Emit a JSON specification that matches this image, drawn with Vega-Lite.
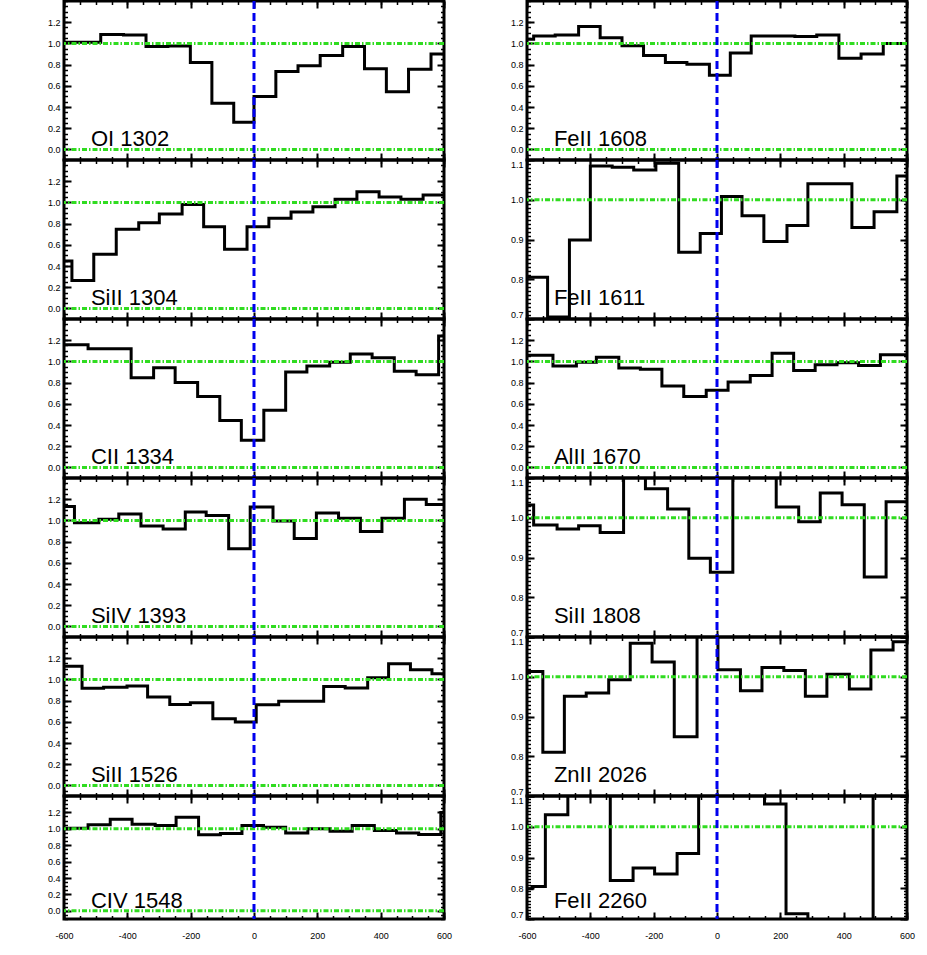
{
"$schema": "https://vega.github.io/schema/vega-lite/v6.json",
"padding": {"left": 0, "top": -2, "right": 0, "bottom": 0},
"background": "white",
"datasets": {
"spectra": [
{"ion":"OI 1302","v":-600,"f":1.01},{"ion":"OI 1302","v":-484,"f":1.085},{"ion":"OI 1302","v":-412,"f":1.08},{"ion":"OI 1302","v":-341,"f":0.97},{"ion":"OI 1302","v":-272,"f":0.975},{"ion":"OI 1302","v":-201,"f":0.82},{"ion":"OI 1302","v":-133,"f":0.435},{"ion":"OI 1302","v":-64,"f":0.255},{"ion":"OI 1302","v":0,"f":0.5},{"ion":"OI 1302","v":69,"f":0.735},{"ion":"OI 1302","v":139,"f":0.79},{"ion":"OI 1302","v":209,"f":0.885},{"ion":"OI 1302","v":280,"f":0.97},{"ion":"OI 1302","v":349,"f":0.76},{"ion":"OI 1302","v":418,"f":0.545},{"ion":"OI 1302","v":488,"f":0.757},{"ion":"OI 1302","v":559,"f":0.9},{"ion":"OI 1302","v":600,"f":0.9},
{"ion":"SiII 1304","v":-600,"f":0.446},{"ion":"SiII 1304","v":-575,"f":0.263},{"ion":"SiII 1304","v":-506,"f":0.51},{"ion":"SiII 1304","v":-435,"f":0.747},{"ion":"SiII 1304","v":-364,"f":0.807},{"ion":"SiII 1304","v":-299,"f":0.89},{"ion":"SiII 1304","v":-227,"f":0.98},{"ion":"SiII 1304","v":-159,"f":0.77},{"ion":"SiII 1304","v":-93,"f":0.557},{"ion":"SiII 1304","v":-22,"f":0.77},{"ion":"SiII 1304","v":47,"f":0.85},{"ion":"SiII 1304","v":117,"f":0.91},{"ion":"SiII 1304","v":186,"f":0.96},{"ion":"SiII 1304","v":256,"f":1.03},{"ion":"SiII 1304","v":325,"f":1.1},{"ion":"SiII 1304","v":395,"f":1.05},{"ion":"SiII 1304","v":464,"f":1.03},{"ion":"SiII 1304","v":534,"f":1.07},{"ion":"SiII 1304","v":600,"f":1.07},
{"ion":"CII 1334","v":-600,"f":1.157},{"ion":"CII 1334","v":-524,"f":1.12},{"ion":"CII 1334","v":-388,"f":0.845},{"ion":"CII 1334","v":-317,"f":0.94},{"ion":"CII 1334","v":-249,"f":0.8},{"ion":"CII 1334","v":-178,"f":0.67},{"ion":"CII 1334","v":-108,"f":0.443},{"ion":"CII 1334","v":-40,"f":0.255},{"ion":"CII 1334","v":31,"f":0.538},{"ion":"CII 1334","v":100,"f":0.9},{"ion":"CII 1334","v":167,"f":0.956},{"ion":"CII 1334","v":239,"f":0.993},{"ion":"CII 1334","v":304,"f":1.07},{"ion":"CII 1334","v":373,"f":1.034},{"ion":"CII 1334","v":443,"f":0.906},{"ion":"CII 1334","v":512,"f":0.874},{"ion":"CII 1334","v":583,"f":1.24},{"ion":"CII 1334","v":600,"f":1.24},
{"ion":"SiIV 1393","v":-600,"f":1.132},{"ion":"SiIV 1393","v":-567,"f":0.977},{"ion":"SiIV 1393","v":-490,"f":1.01},{"ion":"SiIV 1393","v":-427,"f":1.06},{"ion":"SiIV 1393","v":-357,"f":0.946},{"ion":"SiIV 1393","v":-287,"f":0.92},{"ion":"SiIV 1393","v":-217,"f":1.08},{"ion":"SiIV 1393","v":-151,"f":1.047},{"ion":"SiIV 1393","v":-80,"f":0.732},{"ion":"SiIV 1393","v":-12,"f":1.127},{"ion":"SiIV 1393","v":60,"f":0.995},{"ion":"SiIV 1393","v":127,"f":0.83},{"ion":"SiIV 1393","v":197,"f":1.07},{"ion":"SiIV 1393","v":267,"f":1.02},{"ion":"SiIV 1393","v":336,"f":0.896},{"ion":"SiIV 1393","v":404,"f":1.02},{"ion":"SiIV 1393","v":475,"f":1.2},{"ion":"SiIV 1393","v":544,"f":1.15},{"ion":"SiIV 1393","v":600,"f":1.15},
{"ion":"SiII 1526","v":-600,"f":1.125},{"ion":"SiII 1526","v":-543,"f":0.917},{"ion":"SiII 1526","v":-475,"f":0.925},{"ion":"SiII 1526","v":-401,"f":0.937},{"ion":"SiII 1526","v":-336,"f":0.833},{"ion":"SiII 1526","v":-266,"f":0.764},{"ion":"SiII 1526","v":-201,"f":0.78},{"ion":"SiII 1526","v":-130,"f":0.629},{"ion":"SiII 1526","v":-59,"f":0.597},{"ion":"SiII 1526","v":7,"f":0.76},{"ion":"SiII 1526","v":78,"f":0.795},{"ion":"SiII 1526","v":220,"f":0.934},{"ion":"SiII 1526","v":288,"f":0.92},{"ion":"SiII 1526","v":359,"f":1.015},{"ion":"SiII 1526","v":425,"f":1.147},{"ion":"SiII 1526","v":494,"f":1.09},{"ion":"SiII 1526","v":562,"f":1.053},{"ion":"SiII 1526","v":600,"f":1.053},
{"ion":"CIV 1548","v":-600,"f":1.007},{"ion":"CIV 1548","v":-524,"f":1.048},{"ion":"CIV 1548","v":-454,"f":1.116},{"ion":"CIV 1548","v":-385,"f":1.055},{"ion":"CIV 1548","v":-312,"f":1.04},{"ion":"CIV 1548","v":-246,"f":1.14},{"ion":"CIV 1548","v":-175,"f":0.928},{"ion":"CIV 1548","v":-106,"f":0.943},{"ion":"CIV 1548","v":-38,"f":1.04},{"ion":"CIV 1548","v":30,"f":1.02},{"ion":"CIV 1548","v":100,"f":0.95},{"ion":"CIV 1548","v":170,"f":1.0},{"ion":"CIV 1548","v":240,"f":0.97},{"ion":"CIV 1548","v":310,"f":1.04},{"ion":"CIV 1548","v":380,"f":0.98},{"ion":"CIV 1548","v":450,"f":0.95},{"ion":"CIV 1548","v":520,"f":0.93},{"ion":"CIV 1548","v":590,"f":1.2},{"ion":"CIV 1548","v":600,"f":1.2},
{"ion":"FeII 1608","v":-600,"f":1.04},{"ion":"FeII 1608","v":-579,"f":1.07},{"ion":"FeII 1608","v":-511,"f":1.08},{"ion":"FeII 1608","v":-437,"f":1.16},{"ion":"FeII 1608","v":-369,"f":1.053},{"ion":"FeII 1608","v":-300,"f":0.977},{"ion":"FeII 1608","v":-232,"f":0.886},{"ion":"FeII 1608","v":-163,"f":0.82},{"ion":"FeII 1608","v":-95,"f":0.804},{"ion":"FeII 1608","v":-24,"f":0.7},{"ion":"FeII 1608","v":42,"f":0.91},{"ion":"FeII 1608","v":108,"f":1.07},{"ion":"FeII 1608","v":246,"f":1.065},{"ion":"FeII 1608","v":315,"f":1.08},{"ion":"FeII 1608","v":385,"f":0.86},{"ion":"FeII 1608","v":455,"f":0.9},{"ion":"FeII 1608","v":525,"f":1.0},{"ion":"FeII 1608","v":600,"f":1.0},
{"ion":"FeII 1611","v":-600,"f":0.805},{"ion":"FeII 1611","v":-535,"f":0.705},{"ion":"FeII 1611","v":-466,"f":0.899},{"ion":"FeII 1611","v":-400,"f":1.085},{"ion":"FeII 1611","v":-331,"f":1.082},{"ion":"FeII 1611","v":-263,"f":1.075},{"ion":"FeII 1611","v":-193,"f":1.092},{"ion":"FeII 1611","v":-121,"f":0.868},{"ion":"FeII 1611","v":-53,"f":0.915},{"ion":"FeII 1611","v":14,"f":1.008},{"ion":"FeII 1611","v":79,"f":0.96},{"ion":"FeII 1611","v":148,"f":0.895},{"ion":"FeII 1611","v":221,"f":0.935},{"ion":"FeII 1611","v":287,"f":1.04},{"ion":"FeII 1611","v":426,"f":0.93},{"ion":"FeII 1611","v":496,"f":0.97},{"ion":"FeII 1611","v":568,"f":1.06},{"ion":"FeII 1611","v":600,"f":1.06},
{"ion":"AlII 1670","v":-600,"f":1.057},{"ion":"AlII 1670","v":-518,"f":0.956},{"ion":"AlII 1670","v":-444,"f":0.993},{"ion":"AlII 1670","v":-381,"f":1.04},{"ion":"AlII 1670","v":-310,"f":0.937},{"ion":"AlII 1670","v":-242,"f":0.925},{"ion":"AlII 1670","v":-174,"f":0.767},{"ion":"AlII 1670","v":-105,"f":0.67},{"ion":"AlII 1670","v":-34,"f":0.729},{"ion":"AlII 1670","v":35,"f":0.805},{"ion":"AlII 1670","v":105,"f":0.868},{"ion":"AlII 1670","v":174,"f":1.078},{"ion":"AlII 1670","v":242,"f":0.915},{"ion":"AlII 1670","v":310,"f":0.968},{"ion":"AlII 1670","v":379,"f":0.987},{"ion":"AlII 1670","v":447,"f":0.962},{"ion":"AlII 1670","v":516,"f":1.062},{"ion":"AlII 1670","v":600,"f":1.062},
{"ion":"SiII 1808","v":-600,"f":1.032},{"ion":"SiII 1808","v":-579,"f":0.982},{"ion":"SiII 1808","v":-505,"f":0.972},{"ion":"SiII 1808","v":-437,"f":0.98},{"ion":"SiII 1808","v":-369,"f":0.963},{"ion":"SiII 1808","v":-295,"f":1.2},{"ion":"SiII 1808","v":-226,"f":1.073},{"ion":"SiII 1808","v":-156,"f":1.022},{"ion":"SiII 1808","v":-89,"f":0.898},{"ion":"SiII 1808","v":-21,"f":0.863},{"ion":"SiII 1808","v":50,"f":1.2},{"ion":"SiII 1808","v":187,"f":1.027},{"ion":"SiII 1808","v":258,"f":0.99},{"ion":"SiII 1808","v":326,"f":1.0625},{"ion":"SiII 1808","v":395,"f":1.033},{"ion":"SiII 1808","v":465,"f":0.851},{"ion":"SiII 1808","v":534,"f":1.04},{"ion":"SiII 1808","v":600,"f":1.04},
{"ion":"ZnII 2026","v":-600,"f":1.013},{"ion":"ZnII 2026","v":-550,"f":0.81},{"ion":"ZnII 2026","v":-482,"f":0.951},{"ion":"ZnII 2026","v":-413,"f":0.959},{"ion":"ZnII 2026","v":-342,"f":0.9925},{"ion":"ZnII 2026","v":-274,"f":1.084},{"ion":"ZnII 2026","v":-205,"f":1.037},{"ion":"ZnII 2026","v":-135,"f":0.849},{"ion":"ZnII 2026","v":-63,"f":1.2},{"ion":"ZnII 2026","v":3,"f":1.0175},{"ion":"ZnII 2026","v":74,"f":0.965},{"ion":"ZnII 2026","v":142,"f":1.023},{"ion":"ZnII 2026","v":211,"f":1.016},{"ion":"ZnII 2026","v":279,"f":0.951},{"ion":"ZnII 2026","v":347,"f":1.0065},{"ion":"ZnII 2026","v":418,"f":0.969},{"ion":"ZnII 2026","v":486,"f":1.0675},{"ion":"ZnII 2026","v":556,"f":1.088},{"ion":"ZnII 2026","v":600,"f":1.088},
{"ion":"FeII 2260","v":-600,"f":0.798},{"ion":"FeII 2260","v":-584,"f":0.806},{"ion":"FeII 2260","v":-542,"f":1.039},{"ion":"FeII 2260","v":-471,"f":1.2},{"ion":"FeII 2260","v":-337,"f":0.825},{"ion":"FeII 2260","v":-265,"f":0.866},{"ion":"FeII 2260","v":-197,"f":0.846},{"ion":"FeII 2260","v":-126,"f":0.913},{"ion":"FeII 2260","v":-58,"f":1.2},{"ion":"FeII 2260","v":150,"f":1.074},{"ion":"FeII 2260","v":218,"f":0.717},{"ion":"FeII 2260","v":287,"f":0.6},{"ion":"FeII 2260","v":493,"f":1.2},{"ion":"FeII 2260","v":600,"f":1.2}
]
},
"columns": 2,
"spacing": {"row": 0, "column": 83},
"bounds": "flush",
"concat": [
{"width":380,"height":159,"resolve":{"axis":{"x":"independent","y":"independent"}},"layer":[
 {"data":{"name":"spectra"},"transform":[{"filter":"datum.ion==='OI 1302'"}],"mark":{"type":"line","interpolate":"step-after","color":"black","strokeWidth":3,"clip":true},
  "encoding":{"x":{"field":"v","type":"quantitative","scale":{"domain":[-600,600],"nice":false,"zero":false},"axis":{"orient":"bottom","values":[-600,-400,-200,0,200,400,600],"labels":false,"tickSize":-7,"tickWidth":2,"title":null}},
   "y":{"field":"f","type":"quantitative","scale":{"domain":[-0.1,1.4],"nice":false,"zero":false},"axis":{"orient":"left","values":[0,0.2,0.4,0.6,0.8,1,1.2],"format":".1f","labelPadding":11,"tickSize":-7,"tickWidth":2,"title":null,"minExtent":62,"maxExtent":62}}}},
 {"data":{"values":[{}]},"mark":{"type":"rule","color":"#30dc20","strokeWidth":3,"strokeDash":[5,2,1.5,2]},"encoding":{"y":{"datum":1,"type":"quantitative","axis":{"orient":"left","values":[-0.1,-0.05,0,0.05,0.1,0.15,0.2,0.25,0.3,0.35,0.4,0.45,0.5,0.55,0.6,0.65,0.7,0.75,0.8,0.85,0.9,0.95,1,1.05,1.1,1.15,1.2,1.25,1.3,1.35,1.4],"labels":false,"tickSize":-3.5,"tickWidth":1.5,"title":null}}}},
 {"data":{"values":[{}]},"mark":{"type":"rule","color":"#30dc20","strokeWidth":3,"strokeDash":[5,2,1.5,2]},"encoding":{"y":{"datum":0,"type":"quantitative","axis":null}}},
 {"data":{"values":[{}]},"mark":{"type":"rule","color":"#0000ee","strokeWidth":3,"strokeDash":[8,4]},"encoding":{"x":{"datum":0,"type":"quantitative","axis":{"orient":"bottom","values":[-600,-550,-500,-450,-400,-350,-300,-250,-200,-150,-100,-50,0,50,100,150,200,250,300,350,400,450,500,550,600],"labels":false,"tickSize":-3.5,"tickWidth":1.5,"title":null}}}},
 {"data":{"values":[{}]},"mark":{"type":"text","align":"left","baseline":"alphabetic","font":"Liberation Sans","fontSize":22,"color":"black"},"encoding":{"text":{"value":"OI 1302"},"x":{"datum":-515,"type":"quantitative","axis":{"orient":"top","values":[-600,-400,-200,0,200,400,600],"labels":false,"tickSize":-7,"tickWidth":2,"title":null}},"y":{"datum":0.03,"type":"quantitative","axis":{"orient":"right","values":[0,0.2,0.4,0.6,0.8,1,1.2],"labels":false,"tickSize":-7,"tickWidth":2,"title":null}}}},
 {"data":{"values":[{}]},"mark":{"type":"point","opacity":0},"encoding":{"x":{"datum":0,"type":"quantitative","axis":{"orient":"top","values":[-600,-550,-500,-450,-400,-350,-300,-250,-200,-150,-100,-50,0,50,100,150,200,250,300,350,400,450,500,550,600],"labels":false,"tickSize":-3.5,"tickWidth":1.5,"title":null}},"y":{"datum":1,"type":"quantitative","axis":{"orient":"right","values":[-0.1,-0.05,0,0.05,0.1,0.15,0.2,0.25,0.3,0.35,0.4,0.45,0.5,0.55,0.6,0.65,0.7,0.75,0.8,0.85,0.9,0.95,1,1.05,1.1,1.15,1.2,1.25,1.3,1.35,1.4],"labels":false,"tickSize":-3.5,"tickWidth":1.5,"title":null}}}}
]},
{"width":380,"height":159,"resolve":{"axis":{"x":"independent","y":"independent"}},"layer":[
 {"data":{"name":"spectra"},"transform":[{"filter":"datum.ion==='FeII 1608'"}],"mark":{"type":"line","interpolate":"step-after","color":"black","strokeWidth":3,"clip":true},
  "encoding":{"x":{"field":"v","type":"quantitative","scale":{"domain":[-600,600],"nice":false,"zero":false},"axis":{"orient":"bottom","values":[-600,-400,-200,0,200,400,600],"labels":false,"tickSize":-7,"tickWidth":2,"title":null}},
   "y":{"field":"f","type":"quantitative","scale":{"domain":[-0.1,1.4],"nice":false,"zero":false},"axis":{"orient":"left","values":[0,0.2,0.4,0.6,0.8,1,1.2],"format":".1f","labelPadding":11,"tickSize":-7,"tickWidth":2,"title":null,"minExtent":30,"maxExtent":30}}}},
 {"data":{"values":[{}]},"mark":{"type":"rule","color":"#30dc20","strokeWidth":3,"strokeDash":[5,2,1.5,2]},"encoding":{"y":{"datum":1,"type":"quantitative","axis":{"orient":"left","values":[-0.1,-0.05,0,0.05,0.1,0.15,0.2,0.25,0.3,0.35,0.4,0.45,0.5,0.55,0.6,0.65,0.7,0.75,0.8,0.85,0.9,0.95,1,1.05,1.1,1.15,1.2,1.25,1.3,1.35,1.4],"labels":false,"tickSize":-3.5,"tickWidth":1.5,"title":null}}}},
 {"data":{"values":[{}]},"mark":{"type":"rule","color":"#30dc20","strokeWidth":3,"strokeDash":[5,2,1.5,2]},"encoding":{"y":{"datum":0,"type":"quantitative","axis":null}}},
 {"data":{"values":[{}]},"mark":{"type":"rule","color":"#0000ee","strokeWidth":3,"strokeDash":[8,4]},"encoding":{"x":{"datum":0,"type":"quantitative","axis":{"orient":"bottom","values":[-600,-550,-500,-450,-400,-350,-300,-250,-200,-150,-100,-50,0,50,100,150,200,250,300,350,400,450,500,550,600],"labels":false,"tickSize":-3.5,"tickWidth":1.5,"title":null}}}},
 {"data":{"values":[{}]},"mark":{"type":"text","align":"left","baseline":"alphabetic","font":"Liberation Sans","fontSize":22,"color":"black"},"encoding":{"text":{"value":"FeII 1608"},"x":{"datum":-515,"type":"quantitative","axis":{"orient":"top","values":[-600,-400,-200,0,200,400,600],"labels":false,"tickSize":-7,"tickWidth":2,"title":null}},"y":{"datum":0.03,"type":"quantitative","axis":{"orient":"right","values":[0,0.2,0.4,0.6,0.8,1,1.2],"labels":false,"tickSize":-7,"tickWidth":2,"title":null}}}},
 {"data":{"values":[{}]},"mark":{"type":"point","opacity":0},"encoding":{"x":{"datum":0,"type":"quantitative","axis":{"orient":"top","values":[-600,-550,-500,-450,-400,-350,-300,-250,-200,-150,-100,-50,0,50,100,150,200,250,300,350,400,450,500,550,600],"labels":false,"tickSize":-3.5,"tickWidth":1.5,"title":null}},"y":{"datum":1,"type":"quantitative","axis":{"orient":"right","values":[-0.1,-0.05,0,0.05,0.1,0.15,0.2,0.25,0.3,0.35,0.4,0.45,0.5,0.55,0.6,0.65,0.7,0.75,0.8,0.85,0.9,0.95,1,1.05,1.1,1.15,1.2,1.25,1.3,1.35,1.4],"labels":false,"tickSize":-3.5,"tickWidth":1.5,"title":null}}}}
]},
{"width":380,"height":159,"resolve":{"axis":{"x":"independent","y":"independent"}},"layer":[
 {"data":{"name":"spectra"},"transform":[{"filter":"datum.ion==='SiII 1304'"}],"mark":{"type":"line","interpolate":"step-after","color":"black","strokeWidth":3,"clip":true},
  "encoding":{"x":{"field":"v","type":"quantitative","scale":{"domain":[-600,600],"nice":false,"zero":false},"axis":{"orient":"bottom","values":[-600,-400,-200,0,200,400,600],"labels":false,"tickSize":-7,"tickWidth":2,"title":null}},
   "y":{"field":"f","type":"quantitative","scale":{"domain":[-0.1,1.4],"nice":false,"zero":false},"axis":{"orient":"left","values":[0,0.2,0.4,0.6,0.8,1,1.2],"format":".1f","labelPadding":11,"tickSize":-7,"tickWidth":2,"title":null,"minExtent":62,"maxExtent":62}}}},
 {"data":{"values":[{}]},"mark":{"type":"rule","color":"#30dc20","strokeWidth":3,"strokeDash":[5,2,1.5,2]},"encoding":{"y":{"datum":1,"type":"quantitative","axis":{"orient":"left","values":[-0.1,-0.05,0,0.05,0.1,0.15,0.2,0.25,0.3,0.35,0.4,0.45,0.5,0.55,0.6,0.65,0.7,0.75,0.8,0.85,0.9,0.95,1,1.05,1.1,1.15,1.2,1.25,1.3,1.35,1.4],"labels":false,"tickSize":-3.5,"tickWidth":1.5,"title":null}}}},
 {"data":{"values":[{}]},"mark":{"type":"rule","color":"#30dc20","strokeWidth":3,"strokeDash":[5,2,1.5,2]},"encoding":{"y":{"datum":0,"type":"quantitative","axis":null}}},
 {"data":{"values":[{}]},"mark":{"type":"rule","color":"#0000ee","strokeWidth":3,"strokeDash":[8,4]},"encoding":{"x":{"datum":0,"type":"quantitative","axis":{"orient":"bottom","values":[-600,-550,-500,-450,-400,-350,-300,-250,-200,-150,-100,-50,0,50,100,150,200,250,300,350,400,450,500,550,600],"labels":false,"tickSize":-3.5,"tickWidth":1.5,"title":null}}}},
 {"data":{"values":[{}]},"mark":{"type":"text","align":"left","baseline":"alphabetic","font":"Liberation Sans","fontSize":22,"color":"black"},"encoding":{"text":{"value":"SiII 1304"},"x":{"datum":-515,"type":"quantitative","axis":{"orient":"top","values":[-600,-400,-200,0,200,400,600],"labels":false,"tickSize":-7,"tickWidth":2,"title":null}},"y":{"datum":0.03,"type":"quantitative","axis":{"orient":"right","values":[0,0.2,0.4,0.6,0.8,1,1.2],"labels":false,"tickSize":-7,"tickWidth":2,"title":null}}}},
 {"data":{"values":[{}]},"mark":{"type":"point","opacity":0},"encoding":{"x":{"datum":0,"type":"quantitative","axis":{"orient":"top","values":[-600,-550,-500,-450,-400,-350,-300,-250,-200,-150,-100,-50,0,50,100,150,200,250,300,350,400,450,500,550,600],"labels":false,"tickSize":-3.5,"tickWidth":1.5,"title":null}},"y":{"datum":1,"type":"quantitative","axis":{"orient":"right","values":[-0.1,-0.05,0,0.05,0.1,0.15,0.2,0.25,0.3,0.35,0.4,0.45,0.5,0.55,0.6,0.65,0.7,0.75,0.8,0.85,0.9,0.95,1,1.05,1.1,1.15,1.2,1.25,1.3,1.35,1.4],"labels":false,"tickSize":-3.5,"tickWidth":1.5,"title":null}}}}
]},
{"width":380,"height":159,"resolve":{"axis":{"x":"independent","y":"independent"}},"layer":[
 {"data":{"name":"spectra"},"transform":[{"filter":"datum.ion==='FeII 1611'"}],"mark":{"type":"line","interpolate":"step-after","color":"black","strokeWidth":3,"clip":true},
  "encoding":{"x":{"field":"v","type":"quantitative","scale":{"domain":[-600,600],"nice":false,"zero":false},"axis":{"orient":"bottom","values":[-600,-400,-200,0,200,400,600],"labels":false,"tickSize":-7,"tickWidth":2,"title":null}},
   "y":{"field":"f","type":"quantitative","scale":{"domain":[0.7,1.1],"nice":false,"zero":false},"axis":{"orient":"left","values":[0.7,0.8,0.9,1,1.1],"format":".1f","labelPadding":11,"labelFlush":true,"tickSize":-7,"tickWidth":2,"title":null,"minExtent":30,"maxExtent":30}}}},
 {"data":{"values":[{}]},"mark":{"type":"rule","color":"#30dc20","strokeWidth":3,"strokeDash":[5,2,1.5,2]},"encoding":{"y":{"datum":1,"type":"quantitative","axis":{"orient":"left","values":[0.7,0.71,0.72,0.73,0.74,0.75,0.76,0.77,0.78,0.79,0.8,0.81,0.82,0.83,0.84,0.85,0.86,0.87,0.88,0.89,0.9,0.91,0.92,0.93,0.94,0.95,0.96,0.97,0.98,0.99,1,1.01,1.02,1.03,1.04,1.05,1.06,1.07,1.08,1.09,1.1],"labels":false,"tickSize":-3.5,"tickWidth":1.5,"title":null}}}},
 {"data":{"values":[{}]},"mark":{"type":"rule","color":"#0000ee","strokeWidth":3,"strokeDash":[8,4]},"encoding":{"x":{"datum":0,"type":"quantitative","axis":{"orient":"bottom","values":[-600,-550,-500,-450,-400,-350,-300,-250,-200,-150,-100,-50,0,50,100,150,200,250,300,350,400,450,500,550,600],"labels":false,"tickSize":-3.5,"tickWidth":1.5,"title":null}}}},
 {"data":{"values":[{}]},"mark":{"type":"text","align":"left","baseline":"alphabetic","font":"Liberation Sans","fontSize":22,"color":"black"},"encoding":{"text":{"value":"FeII 1611"},"x":{"datum":-515,"type":"quantitative","axis":{"orient":"top","values":[-600,-400,-200,0,200,400,600],"labels":false,"tickSize":-7,"tickWidth":2,"title":null}},"y":{"datum":0.735,"type":"quantitative","axis":{"orient":"right","values":[0.7,0.8,0.9,1,1.1],"labels":false,"tickSize":-7,"tickWidth":2,"title":null}}}},
 {"data":{"values":[{}]},"mark":{"type":"point","opacity":0},"encoding":{"x":{"datum":0,"type":"quantitative","axis":{"orient":"top","values":[-600,-550,-500,-450,-400,-350,-300,-250,-200,-150,-100,-50,0,50,100,150,200,250,300,350,400,450,500,550,600],"labels":false,"tickSize":-3.5,"tickWidth":1.5,"title":null}},"y":{"datum":1,"type":"quantitative","axis":{"orient":"right","values":[0.7,0.71,0.72,0.73,0.74,0.75,0.76,0.77,0.78,0.79,0.8,0.81,0.82,0.83,0.84,0.85,0.86,0.87,0.88,0.89,0.9,0.91,0.92,0.93,0.94,0.95,0.96,0.97,0.98,0.99,1,1.01,1.02,1.03,1.04,1.05,1.06,1.07,1.08,1.09,1.1],"labels":false,"tickSize":-3.5,"tickWidth":1.5,"title":null}}}}
]},
{"width":380,"height":159,"resolve":{"axis":{"x":"independent","y":"independent"}},"layer":[
 {"data":{"name":"spectra"},"transform":[{"filter":"datum.ion==='CII 1334'"}],"mark":{"type":"line","interpolate":"step-after","color":"black","strokeWidth":3,"clip":true},
  "encoding":{"x":{"field":"v","type":"quantitative","scale":{"domain":[-600,600],"nice":false,"zero":false},"axis":{"orient":"bottom","values":[-600,-400,-200,0,200,400,600],"labels":false,"tickSize":-7,"tickWidth":2,"title":null}},
   "y":{"field":"f","type":"quantitative","scale":{"domain":[-0.1,1.4],"nice":false,"zero":false},"axis":{"orient":"left","values":[0,0.2,0.4,0.6,0.8,1,1.2],"format":".1f","labelPadding":11,"tickSize":-7,"tickWidth":2,"title":null,"minExtent":62,"maxExtent":62}}}},
 {"data":{"values":[{}]},"mark":{"type":"rule","color":"#30dc20","strokeWidth":3,"strokeDash":[5,2,1.5,2]},"encoding":{"y":{"datum":1,"type":"quantitative","axis":{"orient":"left","values":[-0.1,-0.05,0,0.05,0.1,0.15,0.2,0.25,0.3,0.35,0.4,0.45,0.5,0.55,0.6,0.65,0.7,0.75,0.8,0.85,0.9,0.95,1,1.05,1.1,1.15,1.2,1.25,1.3,1.35,1.4],"labels":false,"tickSize":-3.5,"tickWidth":1.5,"title":null}}}},
 {"data":{"values":[{}]},"mark":{"type":"rule","color":"#30dc20","strokeWidth":3,"strokeDash":[5,2,1.5,2]},"encoding":{"y":{"datum":0,"type":"quantitative","axis":null}}},
 {"data":{"values":[{}]},"mark":{"type":"rule","color":"#0000ee","strokeWidth":3,"strokeDash":[8,4]},"encoding":{"x":{"datum":0,"type":"quantitative","axis":{"orient":"bottom","values":[-600,-550,-500,-450,-400,-350,-300,-250,-200,-150,-100,-50,0,50,100,150,200,250,300,350,400,450,500,550,600],"labels":false,"tickSize":-3.5,"tickWidth":1.5,"title":null}}}},
 {"data":{"values":[{}]},"mark":{"type":"text","align":"left","baseline":"alphabetic","font":"Liberation Sans","fontSize":22,"color":"black"},"encoding":{"text":{"value":"CII 1334"},"x":{"datum":-515,"type":"quantitative","axis":{"orient":"top","values":[-600,-400,-200,0,200,400,600],"labels":false,"tickSize":-7,"tickWidth":2,"title":null}},"y":{"datum":0.03,"type":"quantitative","axis":{"orient":"right","values":[0,0.2,0.4,0.6,0.8,1,1.2],"labels":false,"tickSize":-7,"tickWidth":2,"title":null}}}},
 {"data":{"values":[{}]},"mark":{"type":"point","opacity":0},"encoding":{"x":{"datum":0,"type":"quantitative","axis":{"orient":"top","values":[-600,-550,-500,-450,-400,-350,-300,-250,-200,-150,-100,-50,0,50,100,150,200,250,300,350,400,450,500,550,600],"labels":false,"tickSize":-3.5,"tickWidth":1.5,"title":null}},"y":{"datum":1,"type":"quantitative","axis":{"orient":"right","values":[-0.1,-0.05,0,0.05,0.1,0.15,0.2,0.25,0.3,0.35,0.4,0.45,0.5,0.55,0.6,0.65,0.7,0.75,0.8,0.85,0.9,0.95,1,1.05,1.1,1.15,1.2,1.25,1.3,1.35,1.4],"labels":false,"tickSize":-3.5,"tickWidth":1.5,"title":null}}}}
]},
{"width":380,"height":159,"resolve":{"axis":{"x":"independent","y":"independent"}},"layer":[
 {"data":{"name":"spectra"},"transform":[{"filter":"datum.ion==='AlII 1670'"}],"mark":{"type":"line","interpolate":"step-after","color":"black","strokeWidth":3,"clip":true},
  "encoding":{"x":{"field":"v","type":"quantitative","scale":{"domain":[-600,600],"nice":false,"zero":false},"axis":{"orient":"bottom","values":[-600,-400,-200,0,200,400,600],"labels":false,"tickSize":-7,"tickWidth":2,"title":null}},
   "y":{"field":"f","type":"quantitative","scale":{"domain":[-0.1,1.4],"nice":false,"zero":false},"axis":{"orient":"left","values":[0,0.2,0.4,0.6,0.8,1,1.2],"format":".1f","labelPadding":11,"tickSize":-7,"tickWidth":2,"title":null,"minExtent":30,"maxExtent":30}}}},
 {"data":{"values":[{}]},"mark":{"type":"rule","color":"#30dc20","strokeWidth":3,"strokeDash":[5,2,1.5,2]},"encoding":{"y":{"datum":1,"type":"quantitative","axis":{"orient":"left","values":[-0.1,-0.05,0,0.05,0.1,0.15,0.2,0.25,0.3,0.35,0.4,0.45,0.5,0.55,0.6,0.65,0.7,0.75,0.8,0.85,0.9,0.95,1,1.05,1.1,1.15,1.2,1.25,1.3,1.35,1.4],"labels":false,"tickSize":-3.5,"tickWidth":1.5,"title":null}}}},
 {"data":{"values":[{}]},"mark":{"type":"rule","color":"#30dc20","strokeWidth":3,"strokeDash":[5,2,1.5,2]},"encoding":{"y":{"datum":0,"type":"quantitative","axis":null}}},
 {"data":{"values":[{}]},"mark":{"type":"rule","color":"#0000ee","strokeWidth":3,"strokeDash":[8,4]},"encoding":{"x":{"datum":0,"type":"quantitative","axis":{"orient":"bottom","values":[-600,-550,-500,-450,-400,-350,-300,-250,-200,-150,-100,-50,0,50,100,150,200,250,300,350,400,450,500,550,600],"labels":false,"tickSize":-3.5,"tickWidth":1.5,"title":null}}}},
 {"data":{"values":[{}]},"mark":{"type":"text","align":"left","baseline":"alphabetic","font":"Liberation Sans","fontSize":22,"color":"black"},"encoding":{"text":{"value":"AlII 1670"},"x":{"datum":-515,"type":"quantitative","axis":{"orient":"top","values":[-600,-400,-200,0,200,400,600],"labels":false,"tickSize":-7,"tickWidth":2,"title":null}},"y":{"datum":0.03,"type":"quantitative","axis":{"orient":"right","values":[0,0.2,0.4,0.6,0.8,1,1.2],"labels":false,"tickSize":-7,"tickWidth":2,"title":null}}}},
 {"data":{"values":[{}]},"mark":{"type":"point","opacity":0},"encoding":{"x":{"datum":0,"type":"quantitative","axis":{"orient":"top","values":[-600,-550,-500,-450,-400,-350,-300,-250,-200,-150,-100,-50,0,50,100,150,200,250,300,350,400,450,500,550,600],"labels":false,"tickSize":-3.5,"tickWidth":1.5,"title":null}},"y":{"datum":1,"type":"quantitative","axis":{"orient":"right","values":[-0.1,-0.05,0,0.05,0.1,0.15,0.2,0.25,0.3,0.35,0.4,0.45,0.5,0.55,0.6,0.65,0.7,0.75,0.8,0.85,0.9,0.95,1,1.05,1.1,1.15,1.2,1.25,1.3,1.35,1.4],"labels":false,"tickSize":-3.5,"tickWidth":1.5,"title":null}}}}
]},
{"width":380,"height":159,"resolve":{"axis":{"x":"independent","y":"independent"}},"layer":[
 {"data":{"name":"spectra"},"transform":[{"filter":"datum.ion==='SiIV 1393'"}],"mark":{"type":"line","interpolate":"step-after","color":"black","strokeWidth":3,"clip":true},
  "encoding":{"x":{"field":"v","type":"quantitative","scale":{"domain":[-600,600],"nice":false,"zero":false},"axis":{"orient":"bottom","values":[-600,-400,-200,0,200,400,600],"labels":false,"tickSize":-7,"tickWidth":2,"title":null}},
   "y":{"field":"f","type":"quantitative","scale":{"domain":[-0.1,1.4],"nice":false,"zero":false},"axis":{"orient":"left","values":[0,0.2,0.4,0.6,0.8,1,1.2],"format":".1f","labelPadding":11,"tickSize":-7,"tickWidth":2,"title":null,"minExtent":62,"maxExtent":62}}}},
 {"data":{"values":[{}]},"mark":{"type":"rule","color":"#30dc20","strokeWidth":3,"strokeDash":[5,2,1.5,2]},"encoding":{"y":{"datum":1,"type":"quantitative","axis":{"orient":"left","values":[-0.1,-0.05,0,0.05,0.1,0.15,0.2,0.25,0.3,0.35,0.4,0.45,0.5,0.55,0.6,0.65,0.7,0.75,0.8,0.85,0.9,0.95,1,1.05,1.1,1.15,1.2,1.25,1.3,1.35,1.4],"labels":false,"tickSize":-3.5,"tickWidth":1.5,"title":null}}}},
 {"data":{"values":[{}]},"mark":{"type":"rule","color":"#30dc20","strokeWidth":3,"strokeDash":[5,2,1.5,2]},"encoding":{"y":{"datum":0,"type":"quantitative","axis":null}}},
 {"data":{"values":[{}]},"mark":{"type":"rule","color":"#0000ee","strokeWidth":3,"strokeDash":[8,4]},"encoding":{"x":{"datum":0,"type":"quantitative","axis":{"orient":"bottom","values":[-600,-550,-500,-450,-400,-350,-300,-250,-200,-150,-100,-50,0,50,100,150,200,250,300,350,400,450,500,550,600],"labels":false,"tickSize":-3.5,"tickWidth":1.5,"title":null}}}},
 {"data":{"values":[{}]},"mark":{"type":"text","align":"left","baseline":"alphabetic","font":"Liberation Sans","fontSize":22,"color":"black"},"encoding":{"text":{"value":"SiIV 1393"},"x":{"datum":-515,"type":"quantitative","axis":{"orient":"top","values":[-600,-400,-200,0,200,400,600],"labels":false,"tickSize":-7,"tickWidth":2,"title":null}},"y":{"datum":0.03,"type":"quantitative","axis":{"orient":"right","values":[0,0.2,0.4,0.6,0.8,1,1.2],"labels":false,"tickSize":-7,"tickWidth":2,"title":null}}}},
 {"data":{"values":[{}]},"mark":{"type":"point","opacity":0},"encoding":{"x":{"datum":0,"type":"quantitative","axis":{"orient":"top","values":[-600,-550,-500,-450,-400,-350,-300,-250,-200,-150,-100,-50,0,50,100,150,200,250,300,350,400,450,500,550,600],"labels":false,"tickSize":-3.5,"tickWidth":1.5,"title":null}},"y":{"datum":1,"type":"quantitative","axis":{"orient":"right","values":[-0.1,-0.05,0,0.05,0.1,0.15,0.2,0.25,0.3,0.35,0.4,0.45,0.5,0.55,0.6,0.65,0.7,0.75,0.8,0.85,0.9,0.95,1,1.05,1.1,1.15,1.2,1.25,1.3,1.35,1.4],"labels":false,"tickSize":-3.5,"tickWidth":1.5,"title":null}}}}
]},
{"width":380,"height":159,"resolve":{"axis":{"x":"independent","y":"independent"}},"layer":[
 {"data":{"name":"spectra"},"transform":[{"filter":"datum.ion==='SiII 1808'"}],"mark":{"type":"line","interpolate":"step-after","color":"black","strokeWidth":3,"clip":true},
  "encoding":{"x":{"field":"v","type":"quantitative","scale":{"domain":[-600,600],"nice":false,"zero":false},"axis":{"orient":"bottom","values":[-600,-400,-200,0,200,400,600],"labels":false,"tickSize":-7,"tickWidth":2,"title":null}},
   "y":{"field":"f","type":"quantitative","scale":{"domain":[0.7,1.1],"nice":false,"zero":false},"axis":{"orient":"left","values":[0.7,0.8,0.9,1,1.1],"format":".1f","labelPadding":11,"labelFlush":true,"tickSize":-7,"tickWidth":2,"title":null,"minExtent":30,"maxExtent":30}}}},
 {"data":{"values":[{}]},"mark":{"type":"rule","color":"#30dc20","strokeWidth":3,"strokeDash":[5,2,1.5,2]},"encoding":{"y":{"datum":1,"type":"quantitative","axis":{"orient":"left","values":[0.7,0.71,0.72,0.73,0.74,0.75,0.76,0.77,0.78,0.79,0.8,0.81,0.82,0.83,0.84,0.85,0.86,0.87,0.88,0.89,0.9,0.91,0.92,0.93,0.94,0.95,0.96,0.97,0.98,0.99,1,1.01,1.02,1.03,1.04,1.05,1.06,1.07,1.08,1.09,1.1],"labels":false,"tickSize":-3.5,"tickWidth":1.5,"title":null}}}},
 {"data":{"values":[{}]},"mark":{"type":"rule","color":"#0000ee","strokeWidth":3,"strokeDash":[8,4]},"encoding":{"x":{"datum":0,"type":"quantitative","axis":{"orient":"bottom","values":[-600,-550,-500,-450,-400,-350,-300,-250,-200,-150,-100,-50,0,50,100,150,200,250,300,350,400,450,500,550,600],"labels":false,"tickSize":-3.5,"tickWidth":1.5,"title":null}}}},
 {"data":{"values":[{}]},"mark":{"type":"text","align":"left","baseline":"alphabetic","font":"Liberation Sans","fontSize":22,"color":"black"},"encoding":{"text":{"value":"SiII 1808"},"x":{"datum":-515,"type":"quantitative","axis":{"orient":"top","values":[-600,-400,-200,0,200,400,600],"labels":false,"tickSize":-7,"tickWidth":2,"title":null}},"y":{"datum":0.735,"type":"quantitative","axis":{"orient":"right","values":[0.7,0.8,0.9,1,1.1],"labels":false,"tickSize":-7,"tickWidth":2,"title":null}}}},
 {"data":{"values":[{}]},"mark":{"type":"point","opacity":0},"encoding":{"x":{"datum":0,"type":"quantitative","axis":{"orient":"top","values":[-600,-550,-500,-450,-400,-350,-300,-250,-200,-150,-100,-50,0,50,100,150,200,250,300,350,400,450,500,550,600],"labels":false,"tickSize":-3.5,"tickWidth":1.5,"title":null}},"y":{"datum":1,"type":"quantitative","axis":{"orient":"right","values":[0.7,0.71,0.72,0.73,0.74,0.75,0.76,0.77,0.78,0.79,0.8,0.81,0.82,0.83,0.84,0.85,0.86,0.87,0.88,0.89,0.9,0.91,0.92,0.93,0.94,0.95,0.96,0.97,0.98,0.99,1,1.01,1.02,1.03,1.04,1.05,1.06,1.07,1.08,1.09,1.1],"labels":false,"tickSize":-3.5,"tickWidth":1.5,"title":null}}}}
]},
{"width":380,"height":159,"resolve":{"axis":{"x":"independent","y":"independent"}},"layer":[
 {"data":{"name":"spectra"},"transform":[{"filter":"datum.ion==='SiII 1526'"}],"mark":{"type":"line","interpolate":"step-after","color":"black","strokeWidth":3,"clip":true},
  "encoding":{"x":{"field":"v","type":"quantitative","scale":{"domain":[-600,600],"nice":false,"zero":false},"axis":{"orient":"bottom","values":[-600,-400,-200,0,200,400,600],"labels":false,"tickSize":-7,"tickWidth":2,"title":null}},
   "y":{"field":"f","type":"quantitative","scale":{"domain":[-0.1,1.4],"nice":false,"zero":false},"axis":{"orient":"left","values":[0,0.2,0.4,0.6,0.8,1,1.2],"format":".1f","labelPadding":11,"tickSize":-7,"tickWidth":2,"title":null,"minExtent":62,"maxExtent":62}}}},
 {"data":{"values":[{}]},"mark":{"type":"rule","color":"#30dc20","strokeWidth":3,"strokeDash":[5,2,1.5,2]},"encoding":{"y":{"datum":1,"type":"quantitative","axis":{"orient":"left","values":[-0.1,-0.05,0,0.05,0.1,0.15,0.2,0.25,0.3,0.35,0.4,0.45,0.5,0.55,0.6,0.65,0.7,0.75,0.8,0.85,0.9,0.95,1,1.05,1.1,1.15,1.2,1.25,1.3,1.35,1.4],"labels":false,"tickSize":-3.5,"tickWidth":1.5,"title":null}}}},
 {"data":{"values":[{}]},"mark":{"type":"rule","color":"#30dc20","strokeWidth":3,"strokeDash":[5,2,1.5,2]},"encoding":{"y":{"datum":0,"type":"quantitative","axis":null}}},
 {"data":{"values":[{}]},"mark":{"type":"rule","color":"#0000ee","strokeWidth":3,"strokeDash":[8,4]},"encoding":{"x":{"datum":0,"type":"quantitative","axis":{"orient":"bottom","values":[-600,-550,-500,-450,-400,-350,-300,-250,-200,-150,-100,-50,0,50,100,150,200,250,300,350,400,450,500,550,600],"labels":false,"tickSize":-3.5,"tickWidth":1.5,"title":null}}}},
 {"data":{"values":[{}]},"mark":{"type":"text","align":"left","baseline":"alphabetic","font":"Liberation Sans","fontSize":22,"color":"black"},"encoding":{"text":{"value":"SiII 1526"},"x":{"datum":-515,"type":"quantitative","axis":{"orient":"top","values":[-600,-400,-200,0,200,400,600],"labels":false,"tickSize":-7,"tickWidth":2,"title":null}},"y":{"datum":0.03,"type":"quantitative","axis":{"orient":"right","values":[0,0.2,0.4,0.6,0.8,1,1.2],"labels":false,"tickSize":-7,"tickWidth":2,"title":null}}}},
 {"data":{"values":[{}]},"mark":{"type":"point","opacity":0},"encoding":{"x":{"datum":0,"type":"quantitative","axis":{"orient":"top","values":[-600,-550,-500,-450,-400,-350,-300,-250,-200,-150,-100,-50,0,50,100,150,200,250,300,350,400,450,500,550,600],"labels":false,"tickSize":-3.5,"tickWidth":1.5,"title":null}},"y":{"datum":1,"type":"quantitative","axis":{"orient":"right","values":[-0.1,-0.05,0,0.05,0.1,0.15,0.2,0.25,0.3,0.35,0.4,0.45,0.5,0.55,0.6,0.65,0.7,0.75,0.8,0.85,0.9,0.95,1,1.05,1.1,1.15,1.2,1.25,1.3,1.35,1.4],"labels":false,"tickSize":-3.5,"tickWidth":1.5,"title":null}}}}
]},
{"width":380,"height":159,"resolve":{"axis":{"x":"independent","y":"independent"}},"layer":[
 {"data":{"name":"spectra"},"transform":[{"filter":"datum.ion==='ZnII 2026'"}],"mark":{"type":"line","interpolate":"step-after","color":"black","strokeWidth":3,"clip":true},
  "encoding":{"x":{"field":"v","type":"quantitative","scale":{"domain":[-600,600],"nice":false,"zero":false},"axis":{"orient":"bottom","values":[-600,-400,-200,0,200,400,600],"labels":false,"tickSize":-7,"tickWidth":2,"title":null}},
   "y":{"field":"f","type":"quantitative","scale":{"domain":[0.7,1.1],"nice":false,"zero":false},"axis":{"orient":"left","values":[0.7,0.8,0.9,1,1.1],"format":".1f","labelPadding":11,"labelFlush":true,"tickSize":-7,"tickWidth":2,"title":null,"minExtent":30,"maxExtent":30}}}},
 {"data":{"values":[{}]},"mark":{"type":"rule","color":"#30dc20","strokeWidth":3,"strokeDash":[5,2,1.5,2]},"encoding":{"y":{"datum":1,"type":"quantitative","axis":{"orient":"left","values":[0.7,0.71,0.72,0.73,0.74,0.75,0.76,0.77,0.78,0.79,0.8,0.81,0.82,0.83,0.84,0.85,0.86,0.87,0.88,0.89,0.9,0.91,0.92,0.93,0.94,0.95,0.96,0.97,0.98,0.99,1,1.01,1.02,1.03,1.04,1.05,1.06,1.07,1.08,1.09,1.1],"labels":false,"tickSize":-3.5,"tickWidth":1.5,"title":null}}}},
 {"data":{"values":[{}]},"mark":{"type":"rule","color":"#0000ee","strokeWidth":3,"strokeDash":[8,4]},"encoding":{"x":{"datum":0,"type":"quantitative","axis":{"orient":"bottom","values":[-600,-550,-500,-450,-400,-350,-300,-250,-200,-150,-100,-50,0,50,100,150,200,250,300,350,400,450,500,550,600],"labels":false,"tickSize":-3.5,"tickWidth":1.5,"title":null}}}},
 {"data":{"values":[{}]},"mark":{"type":"text","align":"left","baseline":"alphabetic","font":"Liberation Sans","fontSize":22,"color":"black"},"encoding":{"text":{"value":"ZnII 2026"},"x":{"datum":-515,"type":"quantitative","axis":{"orient":"top","values":[-600,-400,-200,0,200,400,600],"labels":false,"tickSize":-7,"tickWidth":2,"title":null}},"y":{"datum":0.735,"type":"quantitative","axis":{"orient":"right","values":[0.7,0.8,0.9,1,1.1],"labels":false,"tickSize":-7,"tickWidth":2,"title":null}}}},
 {"data":{"values":[{}]},"mark":{"type":"point","opacity":0},"encoding":{"x":{"datum":0,"type":"quantitative","axis":{"orient":"top","values":[-600,-550,-500,-450,-400,-350,-300,-250,-200,-150,-100,-50,0,50,100,150,200,250,300,350,400,450,500,550,600],"labels":false,"tickSize":-3.5,"tickWidth":1.5,"title":null}},"y":{"datum":1,"type":"quantitative","axis":{"orient":"right","values":[0.7,0.71,0.72,0.73,0.74,0.75,0.76,0.77,0.78,0.79,0.8,0.81,0.82,0.83,0.84,0.85,0.86,0.87,0.88,0.89,0.9,0.91,0.92,0.93,0.94,0.95,0.96,0.97,0.98,0.99,1,1.01,1.02,1.03,1.04,1.05,1.06,1.07,1.08,1.09,1.1],"labels":false,"tickSize":-3.5,"tickWidth":1.5,"title":null}}}}
]},
{"width":380,"height":123,"resolve":{"axis":{"x":"independent","y":"independent"}},"layer":[
 {"data":{"name":"spectra"},"transform":[{"filter":"datum.ion==='CIV 1548'"}],"mark":{"type":"line","interpolate":"step-after","color":"black","strokeWidth":3,"clip":true},
  "encoding":{"x":{"field":"v","type":"quantitative","scale":{"domain":[-600,600],"nice":false,"zero":false},"axis":{"orient":"bottom","values":[-600,-400,-200,0,200,400,600],"labels":true,"labelExpr":"''+datum.value","labelPadding":19,"tickSize":-7,"tickWidth":2,"title":null,"minExtent":30,"maxExtent":30}},
   "y":{"field":"f","type":"quantitative","scale":{"domain":[-0.1,1.4],"nice":false,"zero":false},"axis":{"orient":"left","values":[0,0.2,0.4,0.6,0.8,1,1.2],"format":".1f","labelPadding":11,"tickSize":-7,"tickWidth":2,"title":null,"minExtent":62,"maxExtent":62}}}},
 {"data":{"values":[{}]},"mark":{"type":"rule","color":"#30dc20","strokeWidth":3,"strokeDash":[5,2,1.5,2]},"encoding":{"y":{"datum":1,"type":"quantitative","axis":{"orient":"left","values":[-0.1,-0.05,0,0.05,0.1,0.15,0.2,0.25,0.3,0.35,0.4,0.45,0.5,0.55,0.6,0.65,0.7,0.75,0.8,0.85,0.9,0.95,1,1.05,1.1,1.15,1.2,1.25,1.3,1.35,1.4],"labels":false,"tickSize":-3.5,"tickWidth":1.5,"title":null}}}},
 {"data":{"values":[{}]},"mark":{"type":"rule","color":"#30dc20","strokeWidth":3,"strokeDash":[5,2,1.5,2]},"encoding":{"y":{"datum":0,"type":"quantitative","axis":null}}},
 {"data":{"values":[{}]},"mark":{"type":"rule","color":"#0000ee","strokeWidth":3,"strokeDash":[8,4]},"encoding":{"x":{"datum":0,"type":"quantitative","axis":{"orient":"bottom","values":[-600,-550,-500,-450,-400,-350,-300,-250,-200,-150,-100,-50,0,50,100,150,200,250,300,350,400,450,500,550,600],"labels":false,"tickSize":-3.5,"tickWidth":1.5,"title":null}}}},
 {"data":{"values":[{}]},"mark":{"type":"text","align":"left","baseline":"alphabetic","font":"Liberation Sans","fontSize":22,"color":"black"},"encoding":{"text":{"value":"CIV 1548"},"x":{"datum":-515,"type":"quantitative","axis":{"orient":"top","values":[-600,-400,-200,0,200,400,600],"labels":false,"tickSize":-7,"tickWidth":2,"title":null}},"y":{"datum":0.035,"type":"quantitative","axis":{"orient":"right","values":[0,0.2,0.4,0.6,0.8,1,1.2],"labels":false,"tickSize":-7,"tickWidth":2,"title":null}}}},
 {"data":{"values":[{}]},"mark":{"type":"point","opacity":0},"encoding":{"x":{"datum":0,"type":"quantitative","axis":{"orient":"top","values":[-600,-550,-500,-450,-400,-350,-300,-250,-200,-150,-100,-50,0,50,100,150,200,250,300,350,400,450,500,550,600],"labels":false,"tickSize":-3.5,"tickWidth":1.5,"title":null}},"y":{"datum":1,"type":"quantitative","axis":{"orient":"right","values":[-0.1,-0.05,0,0.05,0.1,0.15,0.2,0.25,0.3,0.35,0.4,0.45,0.5,0.55,0.6,0.65,0.7,0.75,0.8,0.85,0.9,0.95,1,1.05,1.1,1.15,1.2,1.25,1.3,1.35,1.4],"labels":false,"tickSize":-3.5,"tickWidth":1.5,"title":null}}}}
]},
{"width":380,"height":123,"resolve":{"axis":{"x":"independent","y":"independent"}},"layer":[
 {"data":{"name":"spectra"},"transform":[{"filter":"datum.ion==='FeII 2260'"}],"mark":{"type":"line","interpolate":"step-after","color":"black","strokeWidth":3,"clip":true},
  "encoding":{"x":{"field":"v","type":"quantitative","scale":{"domain":[-600,600],"nice":false,"zero":false},"axis":{"orient":"bottom","values":[-600,-400,-200,0,200,400,600],"labels":true,"labelExpr":"''+datum.value","labelPadding":19,"tickSize":-7,"tickWidth":2,"title":null,"minExtent":30,"maxExtent":30}},
   "y":{"field":"f","type":"quantitative","scale":{"domain":[0.7,1.1],"nice":false,"zero":false},"axis":{"orient":"left","values":[0.7,0.8,0.9,1,1.1],"format":".1f","labelPadding":11,"labelFlush":true,"tickSize":-7,"tickWidth":2,"title":null,"minExtent":30,"maxExtent":30}}}},
 {"data":{"values":[{}]},"mark":{"type":"rule","color":"#30dc20","strokeWidth":3,"strokeDash":[5,2,1.5,2]},"encoding":{"y":{"datum":1,"type":"quantitative","axis":{"orient":"left","values":[0.7,0.71,0.72,0.73,0.74,0.75,0.76,0.77,0.78,0.79,0.8,0.81,0.82,0.83,0.84,0.85,0.86,0.87,0.88,0.89,0.9,0.91,0.92,0.93,0.94,0.95,0.96,0.97,0.98,0.99,1,1.01,1.02,1.03,1.04,1.05,1.06,1.07,1.08,1.09,1.1],"labels":false,"tickSize":-3.5,"tickWidth":1.5,"title":null}}}},
 {"data":{"values":[{}]},"mark":{"type":"rule","color":"#0000ee","strokeWidth":3,"strokeDash":[8,4]},"encoding":{"x":{"datum":0,"type":"quantitative","axis":{"orient":"bottom","values":[-600,-550,-500,-450,-400,-350,-300,-250,-200,-150,-100,-50,0,50,100,150,200,250,300,350,400,450,500,550,600],"labels":false,"tickSize":-3.5,"tickWidth":1.5,"title":null}}}},
 {"data":{"values":[{}]},"mark":{"type":"text","align":"left","baseline":"alphabetic","font":"Liberation Sans","fontSize":22,"color":"black"},"encoding":{"text":{"value":"FeII 2260"},"x":{"datum":-515,"type":"quantitative","axis":{"orient":"top","values":[-600,-400,-200,0,200,400,600],"labels":false,"tickSize":-7,"tickWidth":2,"title":null}},"y":{"datum":0.736,"type":"quantitative","axis":{"orient":"right","values":[0.7,0.8,0.9,1,1.1],"labels":false,"tickSize":-7,"tickWidth":2,"title":null}}}},
 {"data":{"values":[{}]},"mark":{"type":"point","opacity":0},"encoding":{"x":{"datum":0,"type":"quantitative","axis":{"orient":"top","values":[-600,-550,-500,-450,-400,-350,-300,-250,-200,-150,-100,-50,0,50,100,150,200,250,300,350,400,450,500,550,600],"labels":false,"tickSize":-3.5,"tickWidth":1.5,"title":null}},"y":{"datum":1,"type":"quantitative","axis":{"orient":"right","values":[0.7,0.71,0.72,0.73,0.74,0.75,0.76,0.77,0.78,0.79,0.8,0.81,0.82,0.83,0.84,0.85,0.86,0.87,0.88,0.89,0.9,0.91,0.92,0.93,0.94,0.95,0.96,0.97,0.98,0.99,1,1.01,1.02,1.03,1.04,1.05,1.06,1.07,1.08,1.09,1.1],"labels":false,"tickSize":-3.5,"tickWidth":1.5,"title":null}}}}
]}
],
"config": {
 "view": {"stroke": "black", "strokeWidth": 3},
 "axis": {"grid": false, "domain": false, "labelFont": "Liberation Sans", "labelFontSize": 9, "labelColor": "black", "tickColor": "black", "labelFlush": false, "labelOverlap": false, "minExtent": 0, "maxExtent": 0}
}
}
